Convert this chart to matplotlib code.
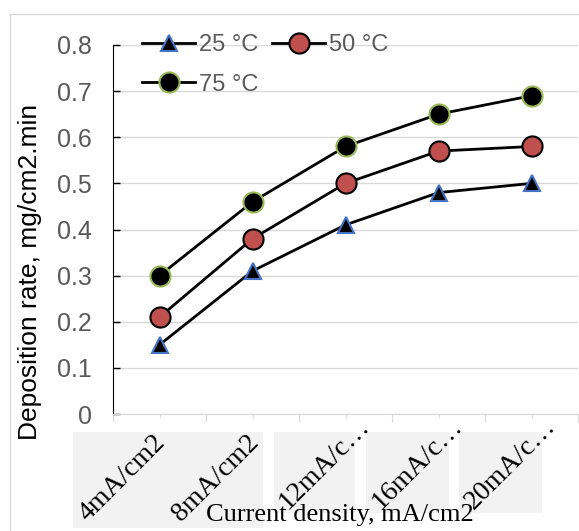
import matplotlib
matplotlib.use("Agg")
import matplotlib.pyplot as plt
from matplotlib.patches import Rectangle

# data
categories = ["4mA/cm2", "8mA/cm2", "12mA/c\u2026", "16mA/c\u2026", "20mA/c\u2026"]
rate_25 = [0.15, 0.31, 0.41, 0.48, 0.50]
rate_50 = [0.21, 0.38, 0.50, 0.57, 0.58]
rate_75 = [0.30, 0.46, 0.58, 0.65, 0.69]

W, H = 579, 531
fig = plt.figure(figsize=(W / 100, H / 100), dpi=100)
ax = fig.add_axes([113 / W, 1 - 414 / H, 465 / W, 369 / H])
ax.set_zorder(2)

# outer chart border
fig.patches.append(Rectangle((10 / W, -0.1), 1.2, 1 - 14 / H + 0.1, transform=fig.transFigure,
                             fill=False, edgecolor="#d9d9d9", lw=1, zorder=-2))

# grey label boxes under the x axis (as in the original export)
boxes = [(73, 432, 263, 528), (274, 432, 355, 513), (366, 432, 449, 513), (459, 432, 542, 513)]
for x0, y0, x1, y1 in boxes:
    fig.patches.append(Rectangle((x0 / W, 1 - y1 / H), (x1 - x0) / W, (y1 - y0) / H,
                                 transform=fig.transFigure, facecolor="#f2f2f2",
                                 edgecolor="none", zorder=-1))

x = list(range(len(categories)))
l25, = ax.plot(x, rate_25, color="black", lw=2, marker="^", ms=12, mfc="black",
               mec="#4472C4", mew=1.5, label="25 \u00b0C", zorder=3)
l50, = ax.plot(x, rate_50, color="black", lw=2, marker="o", ms=14.5, mfc="#C0504D",
               mec="black", mew=1.5, label="50 \u00b0C", zorder=3)
l75, = ax.plot(x, rate_75, color="black", lw=2, marker="o", ms=14.5, mfc="black",
               mec="#9BBB59", mew=1.5, label="75 \u00b0C", zorder=3)

ax.set_xlim(-0.5, 4.5)
ax.set_ylim(0, 0.8)
ax.set_facecolor("none")
ax.set_yticks([0, 0.1, 0.2, 0.3, 0.4, 0.5, 0.6, 0.7, 0.8])
ax.set_yticklabels(["0", "0.1", "0.2", "0.3", "0.4", "0.5", "0.6", "0.7", "0.8"],
                   fontfamily="Liberation Sans", fontsize=18, color="#595959")
ax.grid(axis="y", color="#d9d9d9", lw=1)
ax.set_axisbelow(True)
ax.tick_params(axis="y", direction="in", length=5, width=1, color="black", pad=15)

ax.set_xticks([-0.5, 0.5, 1.5, 2.5, 3.5, 4.5])
ax.set_xticklabels([])
ax.set_xticks(x, minor=True)
ax.tick_params(axis="x", which="major", direction="out", length=6, color="#d9d9d9")
ax.tick_params(axis="x", which="minor", direction="out", length=3, color="#d9d9d9")
for i, lab in enumerate(categories):
    if lab.endswith("\u2026"):
        dx, dy = 0.12, 0.0
    else:
        dx, dy = -0.07, -0.035
    ax.text(i + dx, dy, lab, rotation=45, rotation_mode="anchor", ha="right", va="top",
            fontfamily="Liberation Serif", fontsize=20, color="black", clip_on=False)

for s in ["top", "right"]:
    ax.spines[s].set_visible(False)
ax.spines["left"].set_color("black")
ax.spines["bottom"].set_color("#d9d9d9")

fig.text(30 / W, 1 - 272 / H, "Deposition rate, mg/cm2.min", rotation=90, ha="center",
         va="center", fontfamily="Liberation Sans", fontsize=19, color="black")
fig.text(340 / W, 1 - 515 / H, "Current density, mA/cm2", ha="center", va="center",
         fontfamily="Liberation Serif", fontsize=19, color="black", zorder=6)

leg = ax.legend([l25, l75, l50], ["25 \u00b0C", "75 \u00b0C", "50 \u00b0C"],
                loc="upper left", bbox_to_anchor=(142 / W, 1 - 34 / H),
                bbox_transform=fig.transFigure, ncol=2, frameon=False, borderpad=0,
                borderaxespad=0, handlelength=2.25, handletextpad=0.15, columnspacing=0.6,
                labelspacing=0.75, prop={"family": "Liberation Sans", "size": 17})
for t in leg.get_texts():
    t.set_color("#595959")

fig.savefig("out.png", dpi=100)
